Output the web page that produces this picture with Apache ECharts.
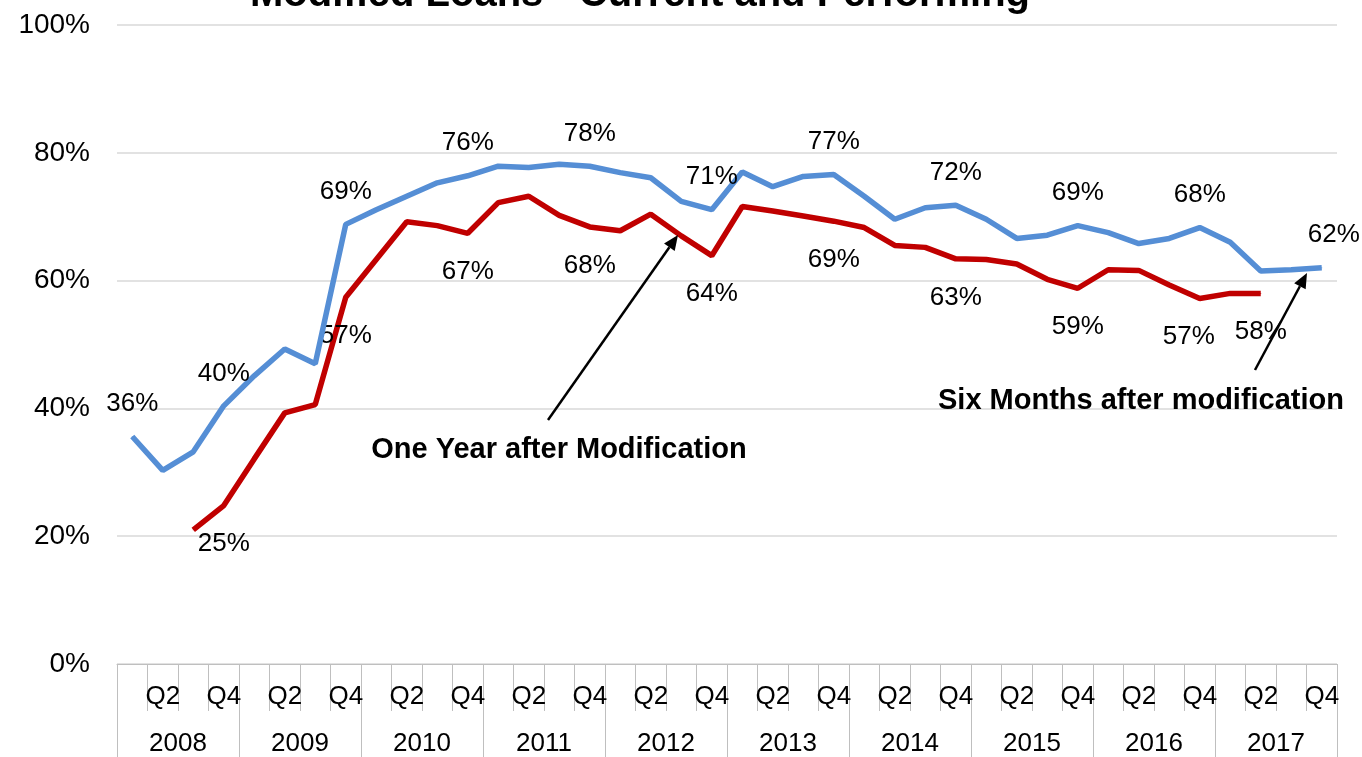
<!DOCTYPE html>
<html>
<head>
<meta charset="utf-8">
<script src="https://cdn.jsdelivr.net/npm/echarts@6/dist/echarts.min.js"></script>
<style>
  html, body { margin: 0; padding: 0; background: #fff; }
  #chart { width: 1362px; height: 757px; }
</style>
</head>
<body>
<div id="chart"></div>
<script>
// ---- data ----
var years = ['2008', '2009', '2010', '2011', '2012', '2013', '2014', '2015', '2016', '2017'];
var quarterNames = ['Q1', 'Q2', 'Q3', 'Q4'];

// six months after modification (blue)
var sixMonths = [35.6, 30.3, 33.2, 40.4, 45.1, 49.3, 47.0, 68.8, 71.1, 73.2,
                 75.3, 76.4, 77.9, 77.7, 78.2, 77.9, 76.9, 76.1, 72.4, 71.1,
                 77.0, 74.7, 76.3, 76.6, 73.2, 69.6, 71.4, 71.8, 69.6, 66.6,
                 67.1, 68.6, 67.5, 65.8, 66.6, 68.3, 66.0, 61.5, 61.7, 62.0];
// one year after modification (red)
var oneYear = [null, null, 21.0, 24.8, 32.1, 39.3, 40.6, 57.4, 63.3, 69.2,
               68.6, 67.4, 72.2, 73.2, 70.2, 68.4, 67.8, 70.4, 67.0, 63.9,
               71.6, 70.9, 70.1, 69.3, 68.3, 65.5, 65.2, 63.4, 63.3, 62.6,
               60.2, 58.8, 61.7, 61.6, 59.3, 57.2, 58.0, 58.0, null, null];

// which points carry a value label
var sixMonthsLabelled = [0, 3, 7, 11, 15, 19, 23, 27, 31, 35, 39];
var oneYearLabelled = [3, 7, 11, 15, 19, 23, 27, 31, 35, 37];

var FONT = '"Liberation Sans", Arial, sans-serif';

var quarterCats = [];
years.forEach(function (y) {
  quarterNames.forEach(function (q) { quarterCats.push(q); });
});

// small nudges for a couple of labels
var labelNudge = { six: { 39: [12, 0] }, one: { 35: [-11, 0] } };

function buildData(values, labelled, nudge) {
  return values.map(function (v, i) {
    if (v === null) return null;
    var lab = { show: labelled.indexOf(i) >= 0 };
    if (nudge[i]) lab.offset = nudge[i];
    return { value: v, label: lab };
  });
}

function pct(p) { return Math.round(p.value) + '%'; }

function arrow(x1, y1, x2, y2) {
  var a = Math.atan2(y2 - y1, x2 - x1);
  var L = 15, W = 6.5;
  var bx = x2 - L * Math.cos(a), by = y2 - L * Math.sin(a);
  var px = -Math.sin(a), py = Math.cos(a);
  return [
    { type: 'line', shape: { x1: x1, y1: y1, x2: bx, y2: by },
      style: { stroke: '#000', lineWidth: 2.5 }, z: 100 },
    { type: 'polygon', shape: { points: [[x2, y2], [bx + W * px, by + W * py], [bx - W * px, by - W * py]] },
      style: { fill: '#000' }, z: 100 }
  ];
}

var myChart = echarts.init(document.getElementById('chart'), null, { renderer: 'canvas' });

var graphics = [
  { type: 'text', x: 640, y: -5, z: 100,
    style: { text: 'Modified Loans - Current and Performing', font: 'bold 40px ' + FONT,
             fill: '#000', align: 'center', verticalAlign: 'middle' } },
  { type: 'text', x: 559, y: 450, z: 100,
    style: { text: 'One Year after Modification', font: 'bold 29px ' + FONT,
             fill: '#000', align: 'center', verticalAlign: 'middle' } },
  { type: 'text', x: 1141, y: 401, z: 100,
    style: { text: 'Six Months after modification', font: 'bold 29px ' + FONT,
             fill: '#000', align: 'center', verticalAlign: 'middle' } }
].concat(arrow(548, 420, 678, 235)).concat(arrow(1255, 370, 1307, 273));

var option = {
  animation: false,
  backgroundColor: '#fff',
  grid: { left: 117, right: 25, top: 25, bottom: 91 },
  xAxis: [
    {
      type: 'category',
      data: quarterCats,
      boundaryGap: true,
      axisLine: { lineStyle: { color: '#bfbfbf', width: 1 } },
      axisTick: { show: true, interval: 0, length: 47, lineStyle: { color: '#bfbfbf' } },
      axisLabel: {
        interval: function (i) { return i % 2 === 1; },
        margin: 20, fontSize: 26, color: '#000', fontFamily: FONT
      },
      splitLine: { show: false }
    },
    {
      type: 'category',
      data: years,
      position: 'bottom',
      boundaryGap: true,
      axisLine: { show: false },
      axisTick: { show: true, interval: 0, length: 95, lineStyle: { color: '#bfbfbf' } },
      axisLabel: { interval: 0, margin: 67, fontSize: 26, color: '#000', fontFamily: FONT },
      splitLine: { show: false }
    }
  ],
  yAxis: {
    type: 'value',
    min: 0,
    max: 100,
    interval: 20,
    axisLine: { show: false },
    axisTick: { show: false },
    axisLabel: { formatter: '{value}%', fontSize: 28, color: '#000', margin: 27, fontFamily: FONT },
    splitLine: { lineStyle: { color: '#d9d9d9', width: 1.5 } }
  },
  series: [
    {
      name: 'Six Months after modification',
      type: 'line',
      xAxisIndex: 0,
      data: buildData(sixMonths, sixMonthsLabelled, labelNudge.six),
      symbol: 'circle', symbolSize: 1, showSymbol: true, showAllSymbol: true,
      lineStyle: { color: '#558ED5', width: 5.5 },
      itemStyle: { color: '#558ED5' },
      label: { position: 'top', distance: 19, fontSize: 26, color: '#000', fontFamily: FONT, formatter: pct },
      emphasis: { disabled: true },
      z: 3
    },
    {
      name: 'One Year after Modification',
      type: 'line',
      xAxisIndex: 0,
      data: buildData(oneYear, oneYearLabelled, labelNudge.one),
      symbol: 'circle', symbolSize: 1, showSymbol: true, showAllSymbol: true,
      connectNulls: false,
      lineStyle: { color: '#C00000', width: 5.5 },
      itemStyle: { color: '#C00000' },
      label: { position: 'bottom', distance: 25, fontSize: 26, color: '#000', fontFamily: FONT, formatter: pct },
      emphasis: { disabled: true },
      z: 2
    }
  ],
  graphic: graphics
};

myChart.setOption(option);
</script>
</body>
</html>
